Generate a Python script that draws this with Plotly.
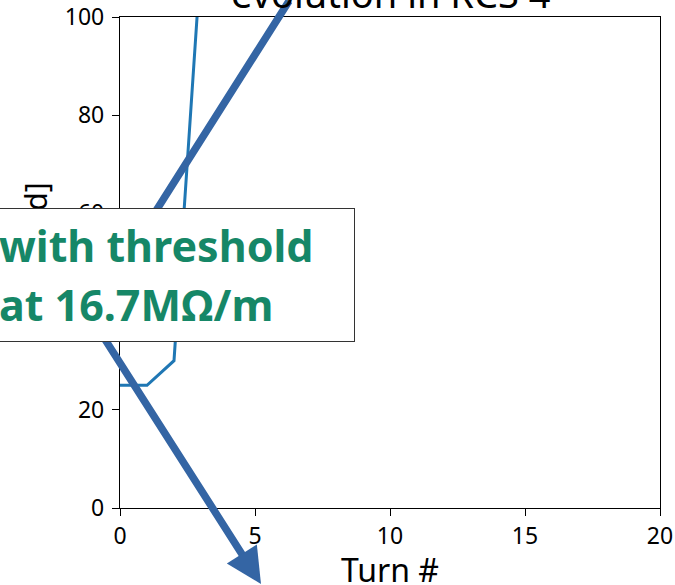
import plotly.graph_objects as go

# ---- data ----
turns = [0, 1, 2, 3]
values = [25, 25, 30, 112]
x_ticks = [0, 5, 10, 15, 20]
y_ticks = [0, 20, 40, 60, 80, 100]
title_text = "evolution in RCS 4"
x_title = "Turn #"
y_title = "Lifetime [d]"
box_lines = ["with threshold", "at 16.7MΩ/m"]

# arrow annotations: head position (paper), tail offset (px), head style
arrow_heads = [(0.313, 1.0448), (0.2611, -0.1548)]
arrow_tails = [(-142, 230), (-162, -254)]
arrow_styles = [0, 2]

FONT = "Noto Sans"
ARROW_COLOR = "#3465a4"
TEXT_GREEN = "#168767"

fig = go.Figure()
fig.add_trace(go.Scatter(x=turns, y=values, mode="lines",
                         line=dict(color="#1f77b4", width=3),
                         showlegend=False, hoverinfo="skip"))

axis_common = dict(showline=True, mirror=True, linecolor="black", linewidth=1.3,
                   ticks="outside", ticklen=7, tickwidth=1.3, tickcolor="black",
                   showgrid=False, zeroline=False, automargin=False,
                   tickfont=dict(family=FONT, size=23, color="black"))

fig.update_xaxes(range=[0, 20], tickvals=x_ticks, **axis_common)
fig.update_yaxes(range=[0, 100], tickvals=y_ticks, ticklabelstandoff=3, **axis_common,
                 title=dict(text=y_title, font=dict(family=FONT, size=30, color="black"), standoff=8))

annotations = []
for (hx, hy), (tx, ty), st in zip(arrow_heads, arrow_tails, arrow_styles):
    annotations.append(dict(xref="paper", yref="paper", x=hx, y=hy, ax=tx, ay=ty,
                            text="", showarrow=True, arrowhead=st, arrowsize=0.95,
                            arrowwidth=7.5, arrowcolor=ARROW_COLOR, standoff=0, startstandoff=0))

# text box
annotations.append(dict(xref="paper", yref="paper", x=0.4352, y=0.611,
                        xanchor="right", yanchor="top", text=" ", showarrow=False,
                        width=356, height=130, bgcolor="white", bordercolor="#333333",
                        borderwidth=1, borderpad=1))
line_y = [0.535, 0.414]
for txt, yy in zip(box_lines, line_y):
    annotations.append(dict(xref="paper", yref="paper", x=-0.2278, y=yy,
                            xanchor="left", yanchor="middle", text="<b>%s</b>" % txt,
                            showarrow=False,
                            font=dict(family=FONT, size=43, color=TEXT_GREEN)))

# x-axis title
annotations.append(dict(xref="paper", yref="paper", x=0.5, y=0, xanchor="center",
                        yanchor="top", yshift=-38, text=x_title, showarrow=False,
                        font=dict(family=FONT, size=32, color="black")))

# title
annotations.append(dict(xref="paper", yref="paper", x=0.5, y=1, xanchor="center",
                        yanchor="bottom", yshift=-4, text=title_text, showarrow=False,
                        font=dict(family=FONT, size=38, color="black")))

fig.update_layout(width=675, height=585, margin=dict(l=120, r=15, t=17, b=77),
                  plot_bgcolor="white", paper_bgcolor="white",
                  annotations=annotations)

fig.write_html("out.html")
